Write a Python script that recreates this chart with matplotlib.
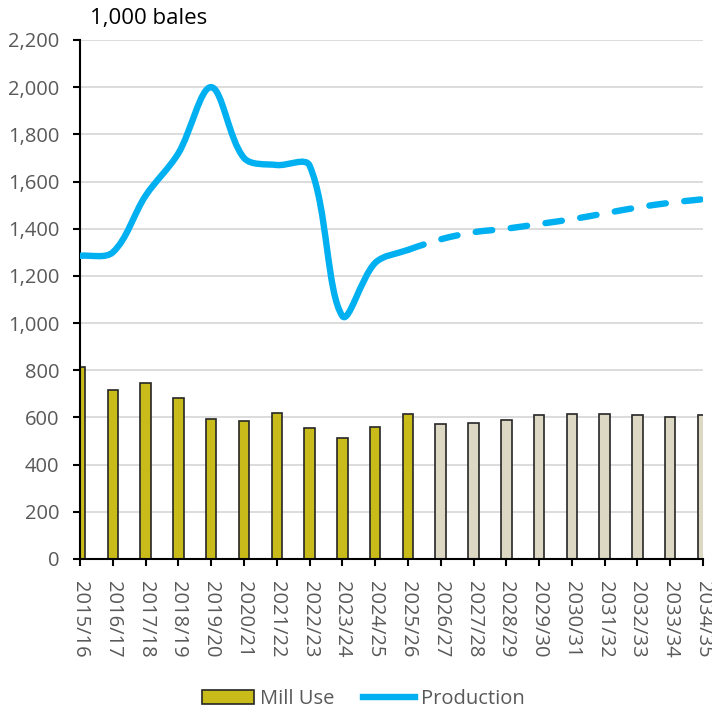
import matplotlib.pyplot as plt
import numpy as np
from matplotlib.path import Path
from matplotlib.patches import PathPatch, Patch
from matplotlib.lines import Line2D

plt.rcParams["font.family"] = ["Open Sans", "DejaVu Sans"]

years = ["2015/16", "2016/17", "2017/18", "2018/19", "2019/20", "2020/21",
         "2021/22", "2022/23", "2023/24", "2024/25", "2025/26", "2026/27",
         "2027/28", "2028/29", "2029/30", "2030/31", "2031/32", "2032/33",
         "2033/34", "2034/35"]
mill_use = [813, 716, 747, 684, 592, 586, 619, 557, 512, 561, 616,
            571, 575, 591, 610, 615, 615, 610, 603, 609]
production = [1285, 1300, 1540, 1720, 2000, 1700, 1670, 1668, 1030, 1255, 1310,
              1355, 1385, 1400, 1420, 1440, 1465, 1490, 1510, 1525]
n_hist = 11  # 2015/16 .. 2025/26 are historical, the rest projected

HIST_COLOR = "#C9BC1A"
PROJ_COLOR = "#DDD8C3"
LINE_COLOR = "#00B0F0"
TICK_COLOR = "#595959"
FS = 14.5

AX_RECT = [0.1124, 0.2127, 0.8750, 0.7310]
FIG_W, FIG_H = 712, 710


def smooth_path(xs, ys, sx, sy, t=1 / 3):
    # Excel-like smoothed line: Bezier segments, handles scaled by segment
    # lengths measured in screen units (sx, sy = pixels per data unit)
    pts = np.column_stack([np.asarray(xs) * sx, np.asarray(ys) * sy]).astype(float)
    n = len(pts)
    verts = [pts[0]]
    codes = [Path.MOVETO]

    def handles(i):
        p_prev = pts[max(i - 1, 0)]
        p_next = pts[min(i + 1, n - 1)]
        d_prev = np.hypot(*(pts[i] - p_prev))
        d_next = np.hypot(*(p_next - pts[i]))
        tot = d_prev + d_next
        if tot == 0:
            return pts[i], pts[i]
        tan = p_next - p_prev
        return pts[i] - t * tan * d_prev / tot, pts[i] + t * tan * d_next / tot

    for i in range(n - 1):
        _, c1 = handles(i)
        c2, _ = handles(i + 1)
        verts += [c1, c2, pts[i + 1]]
        codes += [Path.CURVE4] * 3
    verts = np.array(verts)
    verts[:, 0] /= sx
    verts[:, 1] /= sy
    return Path(verts, codes)


fig = plt.figure(figsize=(FIG_W / 100, FIG_H / 100), dpi=100)
ax = fig.add_axes(AX_RECT)

x = np.arange(len(years))
colors = [HIST_COLOR if i < n_hist else PROJ_COLOR for i in range(len(years))]
ax.bar(x, mill_use, width=0.32, color=colors, edgecolor="#262626",
       linewidth=1.2, zorder=2)

ymax = 2200
sx = AX_RECT[2] * FIG_W / (len(years) - 1)
sy = AX_RECT[3] * FIG_H / ymax
full = smooth_path(x, production, sx, sy)
verts = full.vertices
codes = full.codes
split = 1 + 3 * (n_hist - 1)
solid = Path(verts[:split], codes[:split])
dashed = Path(np.vstack([verts[split - 1:split], verts[split:]]),
              [Path.MOVETO] + list(codes[split:]))
LW = 4.6
ax.add_patch(PathPatch(solid, facecolor="none", edgecolor=LINE_COLOR,
                       linewidth=LW, capstyle="round", joinstyle="round",
                       zorder=3))
ax.add_patch(PathPatch(dashed, facecolor="none", edgecolor=LINE_COLOR,
                       linewidth=LW, linestyle=(0, (2.6, 2.9)),
                       capstyle="round", zorder=3))

ax.set_xlim(0, len(years) - 1)
ax.set_ylim(0, ymax)
ax.set_yticks(np.arange(0, ymax + 1, 200))
ax.set_yticklabels([f"{v:,}" for v in range(0, ymax + 1, 200)])
ax.set_xticks(x)
ax.set_xticklabels(years, rotation=-90)
ax.grid(axis="y", color="#D9D9D9", linewidth=1.3, zorder=0)
ax.set_axisbelow(True)
for side in ("top", "right"):
    ax.spines[side].set_visible(False)
for side in ("left", "bottom"):
    ax.spines[side].set_color("black")
    ax.spines[side].set_linewidth(1.5)
ax.tick_params(axis="both", direction="out", length=5, width=1.5,
               colors="black", labelsize=FS, labelcolor=TICK_COLOR)
ax.tick_params(axis="x", pad=11)
ax.tick_params(axis="y", pad=10)

fig.text(0.126, 0.974, "1,000 bales", fontsize=16, color="black",
         ha="left", va="center")

handles = [Patch(facecolor=HIST_COLOR, edgecolor="#262626", linewidth=1.2),
           Line2D([0], [0], color=LINE_COLOR, linewidth=LW)]
fig.legend(handles, ["Mill Use", "Production"], loc="center",
           bbox_to_anchor=(0.51, 0.016), ncol=2, frameon=False,
           fontsize=FS, labelcolor=TICK_COLOR, handlelength=2.6,
           handletextpad=0.3, columnspacing=1.4, borderpad=0)

fig.savefig("out.png", dpi=100)
